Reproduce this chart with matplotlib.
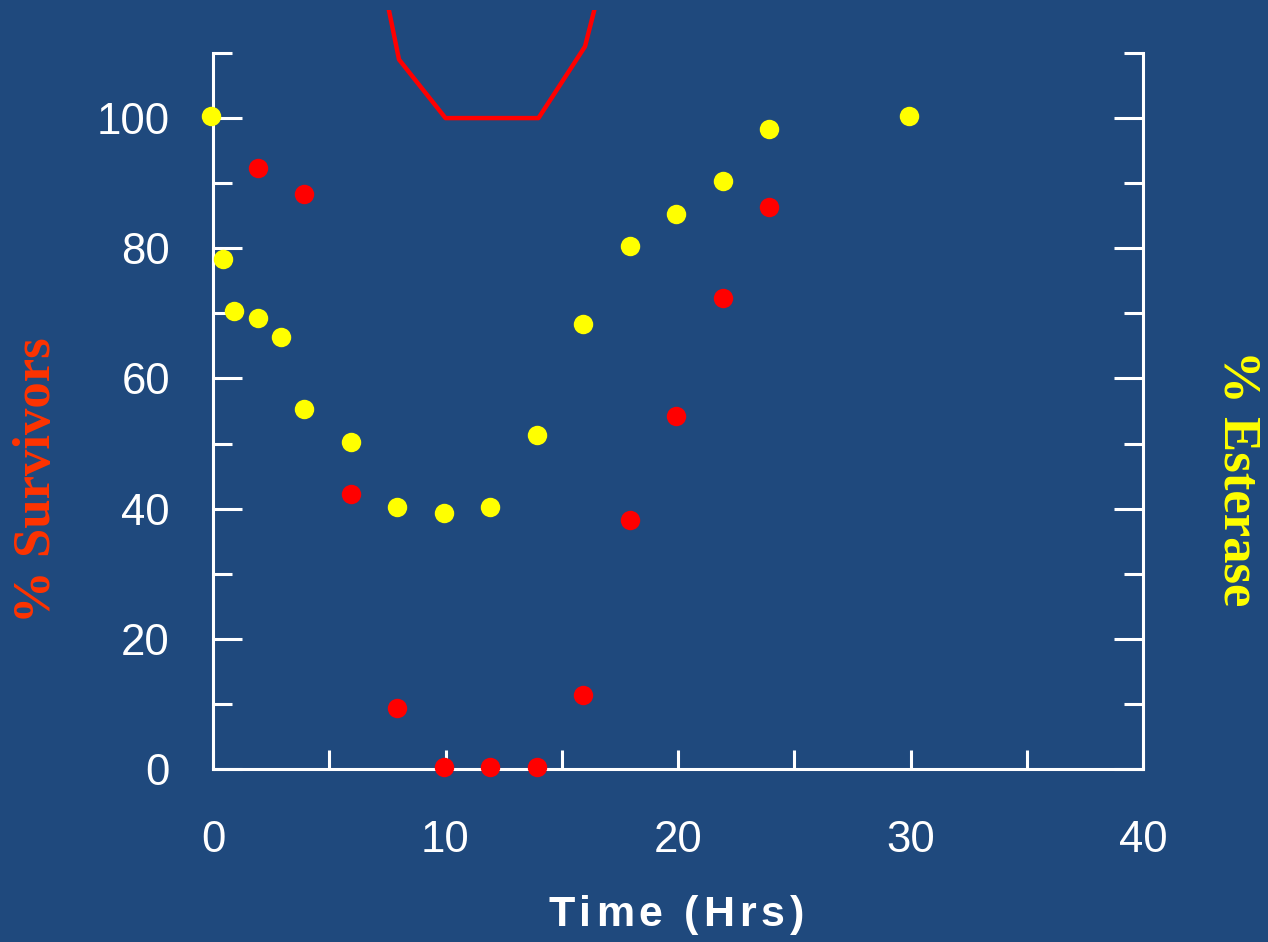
import matplotlib
matplotlib.use("Agg")
import matplotlib.pyplot as plt
from matplotlib.patches import Rectangle
from matplotlib.ticker import MultipleLocator
from matplotlib.font_manager import FontProperties
import matplotlib.transforms as mtransforms

# Data
surv_time = [2, 4, 6, 8, 10, 12, 14, 16, 18, 20, 22, 24]
surv_pct = [92, 88, 42, 9, 0, 0, 0, 11, 38, 54, 72, 86]

est_time = [0, 0.5, 1, 2, 3, 4, 6, 8, 10, 12, 14, 16, 18, 20, 22, 24, 30]
est_pct = [100, 78, 70, 69, 66, 55, 50, 40, 39, 40, 51, 68, 80, 85, 90, 98, 100]

curve_time = [6, 8, 10, 12, 14, 16, 18]
curve_pct = [144, 109, 100, 100, 100, 111, 139]

x_ticks = [0, 10, 20, 30, 40]
y_ticks = [0, 20, 40, 60, 80, 100]

BG = "#1F497D"
W, H = 1268, 942
fig = plt.figure(figsize=(W / 100, H / 100), dpi=100, facecolor=BG)
ax = fig.add_axes([213 / W, 1 - 769 / H, (1143 - 213) / W, (769 - 53) / H])
ax.set_facecolor(BG)
ax.set_xlim(0, 40)
ax.set_ylim(0, 110)

# curve, clipped near the figure top
line, = ax.plot(curve_time, curve_pct, color="#FF0000", lw=3.2, zorder=2)
clip = Rectangle((0, 0), 1, 1 - 10 / H, transform=fig.transFigure)
line.set_clip_path(clip)

shift = ax.transData + mtransforms.ScaledTranslation(-2 / 100, 2 / 100, fig.dpi_scale_trans)
ax.plot(est_time, est_pct, "o", color="#FFFF00", ms=14, mec="none",
        clip_on=False, zorder=3, transform=shift)
ax.plot(surv_time, surv_pct, "o", color="#FF0000", ms=14, mec="none",
        clip_on=False, zorder=3, transform=shift)

for s in ["left", "right", "bottom"]:
    ax.spines[s].set_color("white")
    ax.spines[s].set_linewidth(2.2)
ax.spines["top"].set_visible(False)

ax.set_xticks(x_ticks)
ax.set_xticklabels([str(v) for v in x_ticks])
ax.set_yticks(y_ticks)
ax.set_yticklabels([str(v) for v in y_ticks])
ax.xaxis.set_minor_locator(MultipleLocator(5))
ax.yaxis.set_minor_locator(MultipleLocator(10))

ax.tick_params(axis="y", which="major", direction="in", length=21, width=2.2,
               color="white", labelcolor="white", labelsize=31.5, pad=31,
               left=True, right=True)
ax.tick_params(axis="y", which="minor", direction="in", length=14, width=2.2,
               color="white", left=True, right=True)
ax.tick_params(axis="x", which="major", direction="in", length=14, width=2.2,
               color="white", labelcolor="white", labelsize=31.5, pad=37)
ax.tick_params(axis="x", which="minor", direction="in", length=14, width=2.2,
               color="white")
for lab in ax.get_xticklabels() + ax.get_yticklabels():
    lab.set_fontfamily("Liberation Sans")

# x label with wide letter spacing
label = "Time (Hrs)"
fp = FontProperties(family="Liberation Sans", weight="bold", size=31)
renderer = fig.canvas.get_renderer()
adv = []
for c in label:
    if c == " ":
        w1, _, _ = renderer.get_text_width_height_descent("a a", fp, ismath=False)
        w2, _, _ = renderer.get_text_width_height_descent("aa", fp, ismath=False)
        adv.append(w1 - w2)
    else:
        w, _, _ = renderer.get_text_width_height_descent(c, fp, ismath=False)
        adv.append(w)
track = 4.8
total = sum(adv) + track * (len(label) - 1)
x0 = 676 - total / 2
for c, a in zip(label, adv):
    if c != " ":
        fig.text(x0 / W, 1 - 915 / H, c, color="white", fontproperties=fp,
                 ha="left", va="center")
    x0 += a + track

fig.text(37 / W, 1 - 480 / H, "% Survivors", color="#FF3300", fontsize=38,
         fontweight="bold", family="Liberation Serif", rotation=90,
         ha="center", va="center")
fig.text(1237 / W, 1 - 478 / H, "% Esterase", color="#FFFF00", fontsize=38,
         fontweight="bold", family="Liberation Serif", rotation=-90,
         ha="center", va="center")

fig.savefig("out.png", dpi=100, facecolor=BG)
